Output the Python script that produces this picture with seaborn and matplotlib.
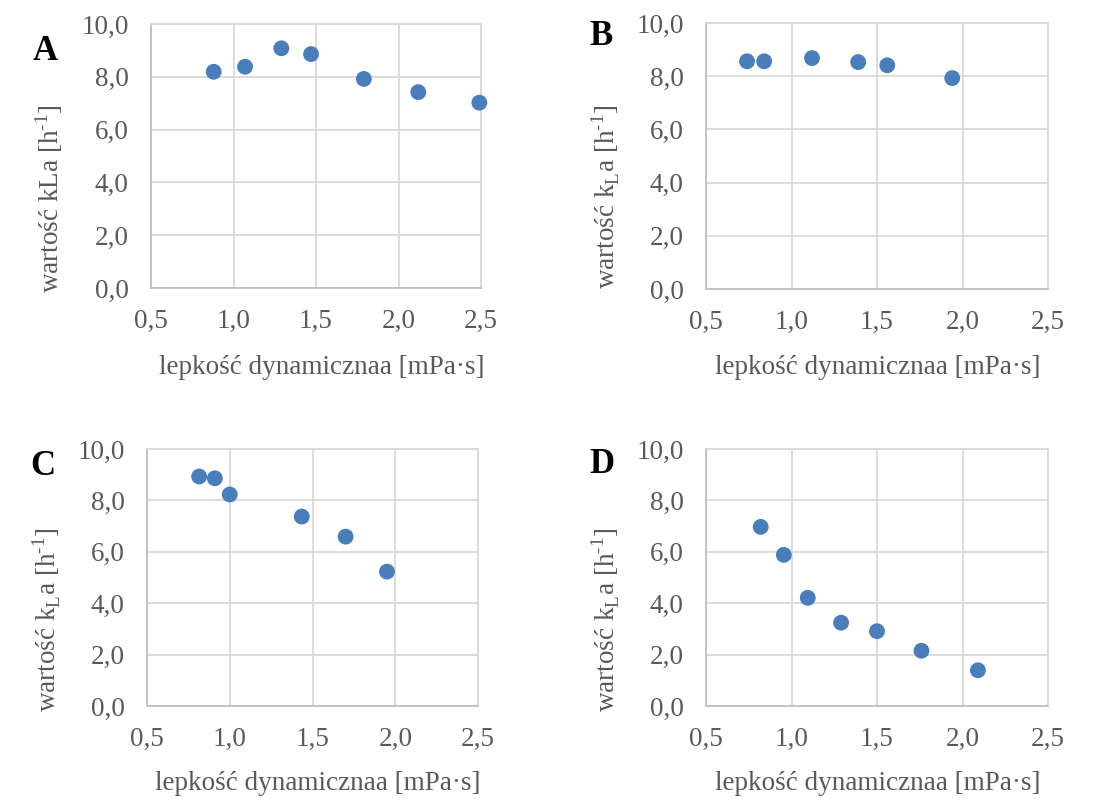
import matplotlib.pyplot as plt
import pandas as pd
import seaborn as sns

# lepkość [mPa·s] and kLa [1/h]
visc_a = [0.88, 1.07, 1.29, 1.47, 1.79, 2.12, 2.49]
kla_a = [8.19, 8.38, 9.08, 8.86, 7.92, 7.42, 7.02]

visc_b = [0.74, 0.84, 1.12, 1.39, 1.56, 1.94]
kla_b = [8.56, 8.56, 8.68, 8.53, 8.41, 7.93]

visc_c = [0.815, 0.91, 1.0, 1.435, 1.70, 1.95]
kla_c = [8.93, 8.86, 8.23, 7.37, 6.59, 5.23]

visc_d = [0.82, 0.955, 1.095, 1.29, 1.50, 1.76, 2.09]
kla_d = [6.97, 5.88, 4.21, 3.24, 2.91, 2.15, 1.39]

panel_letters = ['A', 'B', 'C', 'D']
x_ticks = [0.5, 1.0, 1.5, 2.0, 2.5]
y_ticks = [0, 2, 4, 6, 8, 10]

sns.set_style('white')
plt.rcParams['font.family'] = ['Liberation Serif', 'DejaVu Serif']
plt.rcParams['mathtext.fontset'] = 'custom'
plt.rcParams['mathtext.rm'] = 'Liberation Serif'

W, H = 1112, 799
fig = plt.figure(figsize=(W / 100, H / 100), dpi=100)

# axes boxes in pixels: left, right, top, bottom
boxes = [(151, 481, 24, 288), (706, 1048, 23, 289),
         (147, 478, 449, 706), (706, 1048, 449, 706)]
ylab_pos = [(49, 199), (606, 197), (47, 620), (606, 620)]
xlab_pos = [(322, 367), (878, 367), (318, 783), (878, 783)]
letter_pos = [(33, 60), (589, 45), (30, 475), (589, 473)]

ylab_a = 'wartość kLa [h$^{\\mathregular{\u20101}}$]'
ylab_other = 'wartość k$_\\mathregular{L}$a [h$^{\\mathregular{\u20101}}$]'
ylabels = [ylab_a, ylab_other, ylab_other, ylab_other]

data = [(visc_a, kla_a), (visc_b, kla_b), (visc_c, kla_c), (visc_d, kla_d)]
txt = '#595959'
grid = '#d9d9d9'
blue = '#4a7ebb'

for i, (xs, ys) in enumerate(data):
    l, r, t, b = boxes[i]
    ax = fig.add_axes([l / W, 1 - b / H, (r - l) / W, (b - t) / H])
    df = pd.DataFrame({'visc': xs, 'kla': ys})
    sns.scatterplot(data=df, x='visc', y='kla', ax=ax, color=blue, s=130,
                    edgecolor='none', zorder=3, clip_on=False)
    ax.set_xlim(0.5, 2.5)
    ax.set_ylim(0, 10)
    ax.set_xticks(x_ticks)
    ax.set_yticks(y_ticks)
    ax.set_xticklabels(['{:.1f}'.format(v).replace('.', ',') for v in x_ticks])
    ax.set_yticklabels(['{:.1f}'.format(v).replace('.', ',') for v in y_ticks])
    ax.grid(True, color=grid, linewidth=1.3)
    ax.set_axisbelow(True)
    for s in ['top', 'right']:
        ax.spines[s].set_color(grid)
        ax.spines[s].set_linewidth(1.3)
    for s in ['left', 'bottom']:
        ax.spines[s].set_color('#bfbfbf')
        ax.spines[s].set_linewidth(1.3)
    ax.tick_params(axis='both', length=0, labelsize=19.5, labelcolor=txt)
    ax.tick_params(axis='y', pad=16)
    ax.tick_params(axis='x', pad=15)

    ax.set_xlabel('lepkość dynamicznaa [mPa·s]', fontsize=19.5, color=txt, va='center')
    ax.xaxis.set_label_coords(xlab_pos[i][0] / W, 1 - xlab_pos[i][1] / H, transform=fig.transFigure)
    ax.set_ylabel(ylabels[i], fontsize=19.5, color=txt, va='center')
    ax.yaxis.set_label_coords(ylab_pos[i][0] / W, 1 - ylab_pos[i][1] / H, transform=fig.transFigure)

    fig.text(letter_pos[i][0] / W, 1 - letter_pos[i][1] / H, panel_letters[i],
             fontsize=25, fontweight='bold', color='black', va='baseline', ha='left')

fig.savefig('out.png', dpi=100, facecolor='white')
